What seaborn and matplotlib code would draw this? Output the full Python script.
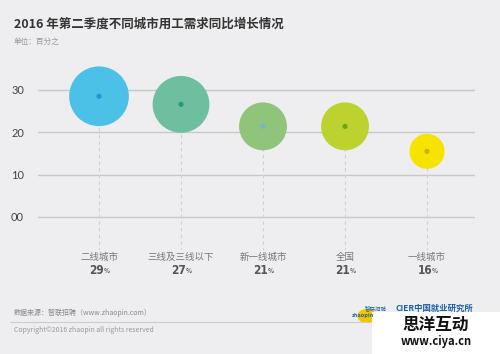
import numpy as np
import pandas as pd
import seaborn as sns
import matplotlib.pyplot as plt
from matplotlib.patches import Rectangle

# data
cities = ['二线城市', '三线及三线以下', '新一线城市', '全国', '一线城市']
growth = [28.5, 26.6, 21.4, 21.4, 15.5]
labels = ['29', '27', '21', '21', '16']
bubble_colors = ['#4cc1e8', '#6dbf9f', '#90c47a', '#bcd32f', '#f7e300']
dot_colors = ['#1a9ad6', '#1f9e78', '#6fb8c9', '#6aa41d', '#c8b400']
yticks = [0, 10, 20, 30]

bg = '#eeeef0'
sns.set_theme(style='white')
plt.rcParams['font.family'] = ['Noto Sans CJK SC', 'DejaVu Sans']

df = pd.DataFrame({'city': cities, 'growth': growth, 'pos': np.arange(len(cities))})

fig = plt.figure(figsize=(5, 3.54), dpi=100, facecolor=bg)
ax = fig.add_axes([38 / 500, 1 - 250 / 354, 437 / 500, 195 / 354])
ax.set_facecolor(bg)

# grid lines
for t in yticks:
    ax.axhline(t, color='#c8c8c8', lw=1, zorder=0)

# dashed drop lines
ax.vlines(df['pos'], -8, df['growth'], color='#cfcfcf', lw=0.8,
          linestyles=(0, (3, 3)), zorder=1)

sns.scatterplot(data=df, x='pos', y='growth', hue='city', palette=bubble_colors,
                size='growth', sizes=(640, 1850), size_norm=(15.5, 28.5),
                linewidth=0, legend=False, zorder=3, ax=ax)
sns.scatterplot(data=df, x='pos', y='growth', hue='city', palette=dot_colors,
                s=14, linewidth=0, legend=False, zorder=4, ax=ax)

ax.set_xlim(-0.744, 4.585)
ax.set_ylim(-7.8, 38.25)
ax.set_yticks(yticks)
ax.set_yticklabels([f'{t:02d}' for t in yticks], color='#444444', fontsize=8,
                   family=['Lato', 'DejaVu Sans'])
ax.tick_params(axis='y', length=0, pad=10)
ax.set_xticks([])
ax.set_xlabel('')
ax.set_ylabel('')
sns.despine(ax=ax, left=True, bottom=True)

# category + value labels under the axes
tr = ax.get_xaxis_transform()
for i, (c, v) in enumerate(zip(cities, labels)):
    ax.text(i, -0.036, c, transform=tr, ha='center', va='center',
            fontsize=6.8, color='#777777', clip_on=False)
    ax.annotate(v, (i, -0.103), xycoords=tr, xytext=(-1.5, 0), textcoords='offset points',
                ha='center', va='center', fontsize=8.5, fontweight='bold',
                color='#555555', family=['DejaVu Sans'], stretch='condensed')
    ax.annotate('%', (i, -0.103), xycoords=tr, xytext=(3.6, -0.5), textcoords='offset points',
                ha='left', va='center', fontsize=4.5, fontweight='bold', color='#555555')

# title and notes
fig.text(14 / 500, 1 - 24 / 354, '2016 年第二季度不同城市用工需求同比增长情况',
         fontsize=9, fontweight='bold', color='#333333', va='center')
fig.text(14 / 500, 1 - 42 / 354, '单位：百分之', fontsize=5.5, color='#999999', va='center')
fig.text(14 / 500, 1 - 313 / 354, '数据来源：智联招聘（www.zhaopin.com）',
         fontsize=5, color='#888888', va='center')
fig.add_artist(plt.Line2D([10 / 500, 368 / 500], [1 - 322 / 354] * 2,
                          color='#cccccc', lw=0.8))
fig.text(14 / 500, 1 - 330 / 354, 'Copyright©2016 zhaopin all rights reserved',
         fontsize=5, color='#999999', va='center')

# logos
fig.add_artist(plt.Circle((367 / 500, 1 - 316 / 354), 0.018, color='#f5c400',
                          transform=fig.transFigure))
fig.text(352 / 500, 1 - 315 / 354, 'zhaopin', fontsize=4, color='#1d5fa8',
         fontweight='bold', va='center')
fig.text(365 / 500, 1 - 308 / 354, '智联招聘', fontsize=4, color='#1d5fa8', va='center')
fig.text(395 / 500, 1 - 308 / 354, 'CIER中国就业研究所', fontsize=6, color='#1d5fa8',
         fontweight='bold', va='center')

# watermark box
fig.add_artist(Rectangle((372 / 500, 0), 128 / 500, 42 / 354, transform=fig.transFigure,
                         facecolor='white', edgecolor='none'))
fig.text(436 / 500, 1 - 325 / 354, '思洋互动', fontsize=12, fontweight='bold',
         color='#111111', ha='center', va='center')
fig.text(436 / 500, 1 - 341 / 354, 'www.ciya.cn', fontsize=8, fontweight='bold',
         color='#111111', ha='center', va='center')

fig.savefig('out.png', dpi=100, facecolor=bg)
